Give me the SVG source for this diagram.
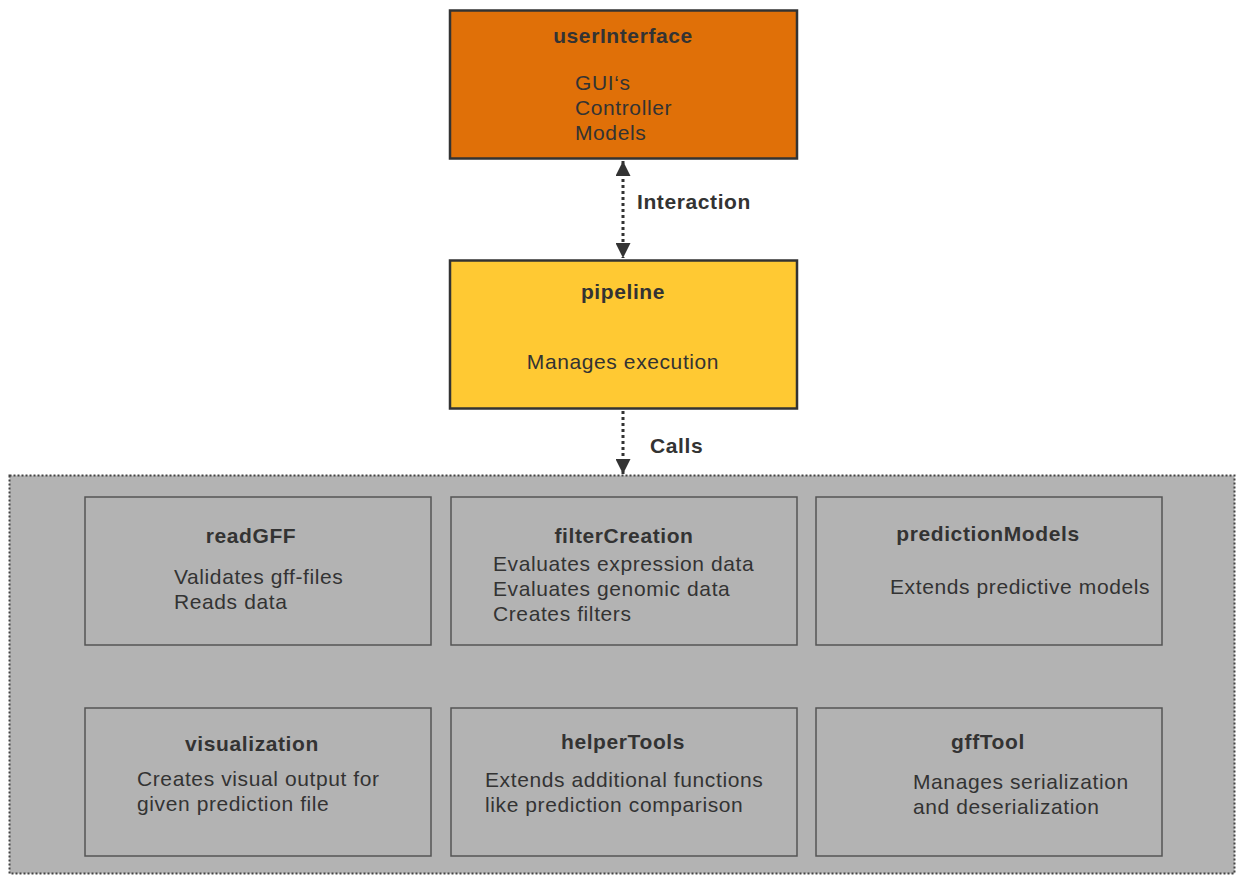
<svg xmlns="http://www.w3.org/2000/svg" width="1236" height="875" viewBox="0 0 1236 875">
<defs>
<style>
text{font-family:"Liberation Sans",Arial,sans-serif;fill:#333333;font-size:21px;letter-spacing:0.6px}
.t{font-weight:bold;text-anchor:middle}
.b{stroke:#333333;stroke-width:2.5}
.m{fill:none;stroke:#555555;stroke-width:1.5}
.c{fill:none;stroke:#333333;stroke-width:3;stroke-dasharray:3 3}
</style>
<marker id="ah" viewBox="0 0 10 10" refX="10" refY="5" markerWidth="5" markerHeight="5" markerUnits="strokeWidth" orient="auto-start-reverse">
<path d="M0,0 L10,5 L0,10 z" fill="#333333"/>
</marker>
</defs>
<rect width="1236" height="875" fill="#ffffff"/>
<g id="container">
<rect x="9.5" y="475.5" width="1225" height="398" fill="#b3b3b3" stroke="#444444" stroke-width="2" stroke-dasharray="2 2"/>
</g>
<g id="userInterface">
<rect class="b" x="450" y="10.5" width="347" height="148" fill="#e07008"/>
<text class="t" x="623" y="43">userInterface</text>
<text x="575" y="90">GUI‘s</text>
<text x="575" y="115">Controller</text>
<text x="575" y="140">Models</text>
</g>
<g id="pipeline">
<rect class="b" x="450" y="260.5" width="347" height="148" fill="#ffc933"/>
<text class="t" x="623" y="299">pipeline</text>
<text x="623" y="369" text-anchor="middle">Manages execution</text>
</g>
<g id="readGFF">
<rect class="m" x="85" y="497" width="346" height="148"/>
<text class="t" x="251" y="543">readGFF</text>
<text x="174" y="584">Validates gff-files</text>
<text x="174" y="609">Reads data</text>
</g>
<g id="filterCreation">
<rect class="m" x="451" y="497" width="346" height="148"/>
<text class="t" x="624" y="543">filterCreation</text>
<text x="493" y="571">Evaluates expression data</text>
<text x="493" y="596">Evaluates genomic data</text>
<text x="493" y="621">Creates filters</text>
</g>
<g id="predictionModels">
<rect class="m" x="816" y="497" width="346" height="148"/>
<text class="t" x="988" y="541">predictionModels</text>
<text x="890" y="594">Extends predictive models</text>
</g>
<g id="visualization">
<rect class="m" x="85" y="708" width="346" height="148"/>
<text class="t" x="252" y="751">visualization</text>
<text x="137" y="786">Creates visual output for</text>
<text x="137" y="811">given prediction file</text>
</g>
<g id="helperTools">
<rect class="m" x="451" y="708" width="346" height="148"/>
<text class="t" x="623" y="749">helperTools</text>
<text x="485" y="787">Extends additional functions</text>
<text x="485" y="812">like prediction comparison</text>
</g>
<g id="gffTool">
<rect class="m" x="816" y="708" width="346" height="148"/>
<text class="t" x="988" y="749">gffTool</text>
<text x="913" y="789">Manages serialization</text>
<text x="913" y="814">and deserialization</text>
</g>
<g id="connectors">
<line class="c" x1="623" y1="161" x2="623" y2="258" marker-start="url(#ah)" marker-end="url(#ah)"/>
<text x="637" y="209" font-weight="bold">Interaction</text>
<line class="c" x1="623" y1="411" x2="623" y2="474" marker-end="url(#ah)"/>
<text x="650" y="453" font-weight="bold">Calls</text>
</g>
</svg>
